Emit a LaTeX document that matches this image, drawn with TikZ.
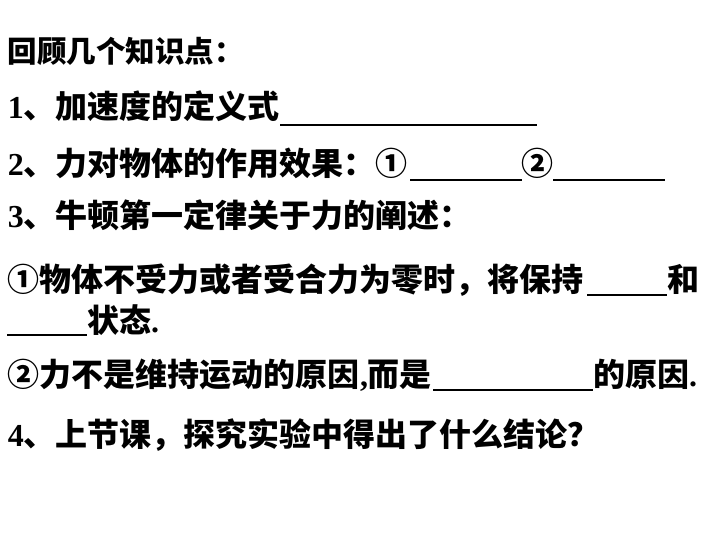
\documentclass[tikz,border=0pt]{standalone}
\usepackage{fontspec}
\setmainfont{Liberation Serif}
\newfontfamily\cjk{Noto Sans CJK SC}
\newcommand{\zh}[1]{{\cjk\bfseries #1}}
\begin{document}
\begin{tikzpicture}[x=1pt,y=-1pt]
\tikzset{
  txt/.style={anchor=base west,inner sep=0pt,outer sep=0pt,font=\bfseries\fontsize{32}{38}\selectfont},
  ttl/.style={txt,font=\bfseries\fontsize{29.5}{35}\selectfont},
  blank/.style={line width=2pt,line cap=butt}
}
\useasboundingbox[fill=white] (0,0) rectangle (720,540);
% line 1
\node[ttl] (t1) at (8,63) {\zh{回顾几个知识点：}};
% line 2
\node[txt] (t2) at (8,119) {1\zh{、加速度的定义式}};
\draw[blank] (280,125) -- (537,125);
% line 3
\node[txt] (t3) at (8,176) {2\zh{、力对物体的作用效果：①}};
\draw[blank] (410,180) -- (522,180);
\node[txt] (t3b) at (521,176) {\zh{②}};
\draw[blank] (553,180) -- (665,180);
% line 4
\node[txt] (t4) at (8,228) {3\zh{、牛顿第一定律关于力的阐述：}};
% line 5
\node[txt] (t5) at (8,291) {\zh{①物体不受力或者受合力为零时，将保持}};
\draw[blank] (587,295) -- (667,295);
\node[txt] (t5b) at (667,291) {\zh{和}};
% line 6
\draw[blank] (7,335) -- (87,335);
\node[txt] (t6) at (87,332) {\zh{状态}.};
% line 7
\node[txt] (t7) at (8,386) {\zh{②力不是维持运动的原因},\zh{而是}};
\draw[blank] (433,390) -- (593,390);
\node[txt] (t7b) at (593,386) {\zh{的原因}.};
% line 8
\node[txt] (t8) at (8,446) {4\zh{、上节课，探究实验中得出了什么结论？}};
\end{tikzpicture}
\end{document}
